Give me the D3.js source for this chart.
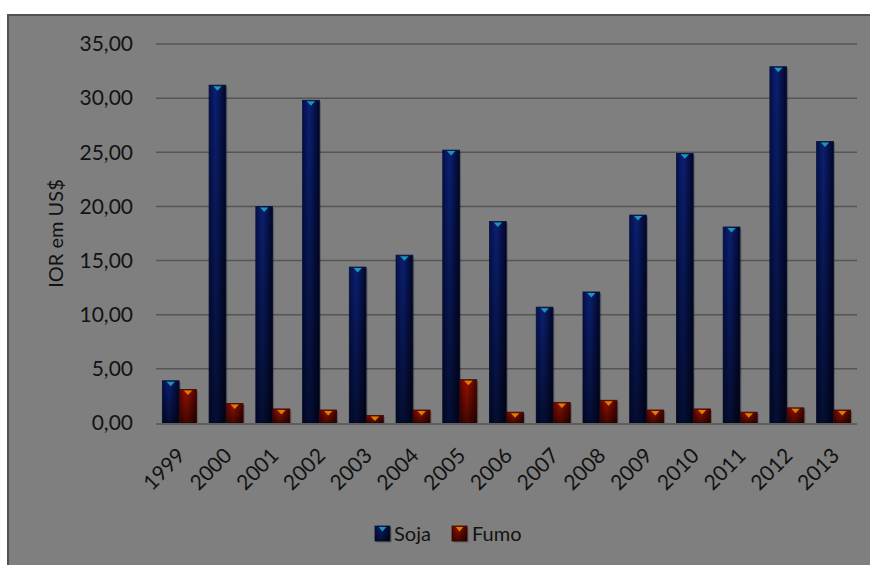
<!DOCTYPE html>
<html><head><meta charset="utf-8">
<script src="https://cdn.jsdelivr.net/npm/d3@7"></script>
<style>html,body{margin:0;padding:0;background:#fff;}svg{display:block;}</style>
</head><body>
<script>
const categories = ["1999","2000","2001","2002","2003","2004","2005","2006","2007","2008","2009","2010","2011","2012","2013"];
const soja = [3.9,31.2,20.0,29.8,14.4,15.5,25.2,18.6,10.7,12.1,19.2,24.9,18.1,32.9,26.0];
const fumo = [3.1,1.8,1.3,1.2,0.7,1.2,4.0,1.0,1.9,2.1,1.2,1.3,1.0,1.4,1.2];
const seriesNames = ["Soja","Fumo"];
const yTicks = [0,5,10,15,20,25,30,35];

const W = 870, H = 565;
const m = {left:156, right:857, top:44, bottom:423};
const FONT = "Lato, 'Open Sans', sans-serif";

const svg = d3.select("body").append("svg").attr("width",W).attr("height",H);
const defs = svg.append("defs");

function hGrad(id, c0, c1, c2){
  const g = defs.append("linearGradient").attr("id",id).attr("x1","0").attr("x2","1").attr("y1","0").attr("y2","0");
  g.append("stop").attr("offset","0").attr("stop-color",c0);
  g.append("stop").attr("offset","0.4").attr("stop-color",c1);
  g.append("stop").attr("offset","1").attr("stop-color",c2);
}
hGrad("gSoja","#04104c","#0b2072","#020628");
hGrad("gFumo","#6a0500","#981200","#480200");
const vg = defs.append("linearGradient").attr("id","vshade").attr("x1","0").attr("x2","0").attr("y1","0").attr("y2","1");
vg.append("stop").attr("offset","0").attr("stop-color","#000").attr("stop-opacity",0);
vg.append("stop").attr("offset","1").attr("stop-color","#000").attr("stop-opacity",0.55);

// chart area
svg.append("rect").attr("x",8).attr("y",15).attr("width",W-8+2).attr("height",H-15+2)
  .attr("fill","#7f7f7f").attr("stroke","#525252").attr("stroke-width",2);

const x0 = d3.scaleBand().domain(categories).range([m.left,m.right]).paddingInner(0.25).paddingOuter(0.125);
const x1 = d3.scaleBand().domain(seriesNames).range([0,x0.bandwidth()]).padding(0.03);
const y = d3.scaleLinear().domain([0,35]).range([m.bottom,m.top]);

// gridlines
svg.append("g").selectAll("line").data(yTicks.filter(t=>t>0)).join("line")
  .attr("x1",m.left).attr("x2",m.right).attr("y1",d=>y(d)).attr("y2",d=>y(d))
  .attr("stroke","#555").attr("stroke-width",1.5);

// y axis labels
const fmt = d => d3.format(".2f")(d).replace(".",",");
svg.append("g").selectAll("text").data(yTicks).join("text")
  .attr("x",133).attr("y",d=>y(d)).attr("dy","0.35em").attr("text-anchor","end")
  .attr("font-family",FONT).attr("font-size",21).attr("fill","#121212").text(fmt);

svg.append("text").attr("transform",`translate(63,${(m.top+m.bottom)/2}) rotate(-90)`)
  .attr("text-anchor","middle").attr("font-family",FONT).attr("font-size",20).attr("fill","#121212")
  .text("IOR em US$");

const colors = {Soja:{grad:"url(#gSoja)",tri:"#1a96b8",stroke:"#061238"},Fumo:{grad:"url(#gFumo)",tri:"#d98000",stroke:"#400600"}};
const data = categories.map((c,i)=>({cat:c, vals:[{s:"Soja",v:soja[i]},{s:"Fumo",v:fumo[i]}]}));

function drawBar(g, x, yTop, w, h, s){
  g.append("rect").attr("x",x+1.5).attr("y",yTop+1.5).attr("width",w).attr("height",h).attr("fill","#000").attr("opacity",0.25);
  g.append("rect").attr("x",x).attr("y",yTop).attr("width",w).attr("height",h).attr("fill",colors[s].grad)
    .attr("stroke",colors[s].stroke).attr("stroke-width",0.8);
  g.append("rect").attr("x",x).attr("y",yTop).attr("width",w).attr("height",h).attr("fill","url(#vshade)");
  const tw = Math.min(9,w*0.5), th = Math.min(4.5,h*0.8);
  g.append("path").attr("d",`M${x+w/2-tw/2},${yTop+1}L${x+w/2+tw/2},${yTop+1}L${x+w/2},${yTop+1+th}Z`).attr("fill",colors[s].tri);
}

const bars = svg.append("g");
data.forEach(d=>{
  d.vals.forEach(v=>{
    const bx = x0(d.cat)+x1(v.s);
    drawBar(bars, bx, y(v.v), x1.bandwidth(), y(0)-y(v.v), v.s);
  });
});

// axis baseline
svg.append("line").attr("x1",m.left).attr("x2",m.right).attr("y1",y(0)+1).attr("y2",y(0)+1).attr("stroke","#5e5e5e").attr("stroke-width",2);

// x labels
svg.append("g").selectAll("text").data(categories).join("text")
  .attr("transform",d=>`translate(${x0(d)+x0.bandwidth()/2+7},${y(0)+34}) rotate(-45)`)
  .attr("text-anchor","end").attr("font-family",FONT).attr("font-size",21).attr("fill","#121212").text(d=>d);

// legend
const lg = svg.append("g");
const legendItems = [{s:"Soja",x:375,tx:394},{s:"Fumo",x:452,tx:472}];
legendItems.forEach(it=>{
  drawBar(lg, it.x, 526, 15, 15, it.s);
  lg.append("text").attr("x",it.tx).attr("y",541).attr("font-family",FONT).attr("font-size",20).attr("fill","#121212").text(it.s);
});
</script>
</body></html>
